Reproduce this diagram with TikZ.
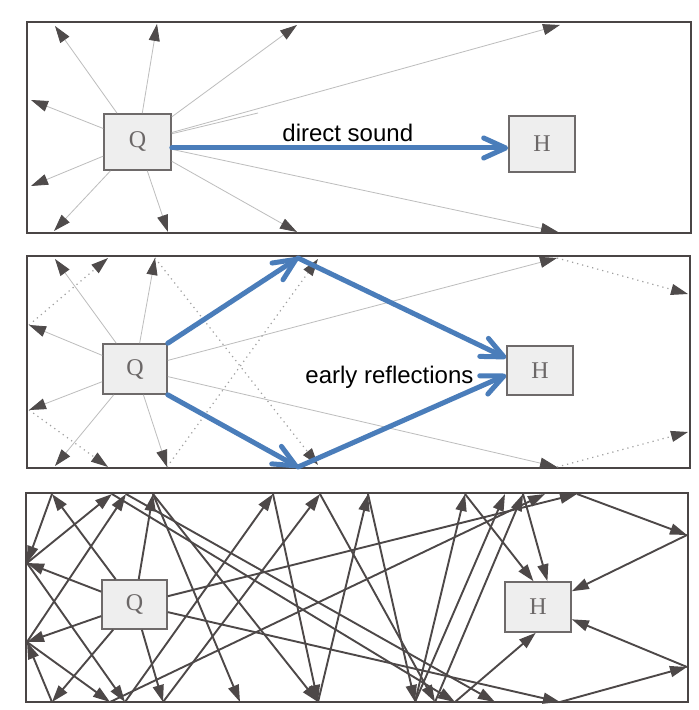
\documentclass[tikz,border=0pt]{standalone}
\usepackage{fontspec}
\setmainfont{Liberation Serif}
\newfontfamily\labfont{Liberation Sans}
\usetikzlibrary{arrows.meta}
\definecolor{framec}{HTML}{4A4545}
\definecolor{rayc}{HTML}{BDBDBD}
\definecolor{tipc}{HTML}{4F4B4B}
\definecolor{darkc}{HTML}{4D4848}
\definecolor{boxfill}{HTML}{EEEEEE}
\definecolor{boxline}{HTML}{6E6A6A}
\definecolor{txtgray}{HTML}{6B6767}
\definecolor{bluec}{HTML}{4A7DBA}
\begin{document}
\begin{tikzpicture}[x=0.5pt,y=-0.5pt,
  room/.style={draw=framec,line width=1.3pt},
  box/.style={draw=boxline,fill=boxfill,line width=0.8pt,inner sep=0pt,text=txtgray,font=\fontsize{12}{14}\selectfont},
  thinray/.style={draw=rayc,line width=0.4pt,-{Triangle[length=8.5pt,width=5.5pt,color=tipc]}},
  plainray/.style={draw=rayc,line width=0.4pt},
  dotray/.style={draw=gray!75,line width=0.6pt,dotted,-{Triangle[length=8.5pt,width=5.5pt,color=tipc]}},
  thickray/.style={draw=darkc,line width=0.95pt,-{Triangle[length=8.5pt,width=5.5pt,color=darkc]}},
  bluearr/.style={draw=bluec,line width=2.5pt,line cap=round,-{Straight Barb[length=11pt,width=10pt,line cap=round,line join=round]}},
  lab/.style={font=\labfont\fontsize{12}{14}\selectfont,inner sep=0pt,anchor=base west}]
\useasboundingbox (0,0) rectangle (698,710);
\fill[white] (0,0) rectangle (698,710);

% ---------------- panel 1 ----------------
\draw[room] (27,22) rectangle (691,233);
\node[box,minimum width=33.5pt,minimum height=28pt] (Q1) at (137.5,142) {Q};
\node[box,minimum width=33pt,minimum height=28pt] (H1) at (542,144) {H};
\coordinate (a1) at (55,26);
\coordinate (a2) at (157,24);
\coordinate (a3) at (297,25);
\coordinate (a4) at (560,25);
\coordinate (a5) at (31,100);
\coordinate (a6) at (31,186);
\coordinate (a7) at (54,231);
\coordinate (a8) at (168,232);
\coordinate (a9) at (297,232);
\coordinate (a10) at (558,232);
\coordinate (a11) at (258,113);
\foreach \t in {a1,a2,a3,a4,a5,a6,a7,a8,a9,a10} \draw[thinray] (Q1) -- (\t);
\draw[plainray] (Q1) -- (a11);
\node[lab] (t1) at (282,142) {direct sound};
\draw[bluearr] ([yshift=-3pt]Q1.east) -- ([yshift=-2pt]H1.west);

% ---------------- panel 2 ----------------
\draw[room] (27,256) rectangle (690,468);
\node[box,minimum width=32pt,minimum height=25pt] (Q2) at (135,369) {Q};
\node[box,minimum width=33pt,minimum height=24.5pt] (H2) at (540,370.5) {H};
\coordinate (b1) at (55,259);
\coordinate (b2) at (29,325);
\coordinate (b3) at (108,258);
\coordinate (b4) at (29,410);
\coordinate (b5) at (108,467);
\coordinate (b6) at (55,466);
\coordinate (b7) at (155,258);
\coordinate (b8) at (167,467);
\coordinate (b9) at (318,465);
\coordinate (b10) at (318,259);
\coordinate (b11) at (557,258);
\coordinate (b12) at (688,294);
\coordinate (b13) at (557,467);
\coordinate (b14) at (688,432);
\coordinate (p1) at (298,258);
\coordinate (p2) at (298,467);
\foreach \t in {b1,b2,b4,b6,b7,b8,b11,b13} \draw[thinray] (Q2) -- (\t);
\draw[dotray] (b2) -- (b3);
\draw[dotray] (b4) -- (b5);
\draw[dotray] (b7) -- (b9);
\draw[dotray] (b8) -- (b10);
\draw[dotray] (b11) -- (b12);
\draw[dotray] (b13) -- (b14);
\node[lab] (t2) at (305,383) {early reflections};
\draw[bluearr] (Q2.north east) -- (p1);
\draw[bluearr] (p1) -- ([yshift=6.25pt]H2.west);
\draw[bluearr] (Q2.south east) -- (p2);
\draw[bluearr] (p2) -- ([yshift=-2.25pt]H2.west);

% ---------------- panel 3 ----------------
\draw[room] (26,493) rectangle (688,702);
\node[box,minimum width=32.5pt,minimum height=24.5pt] (Q3) at (134.5,604.5) {Q};
\node[box,minimum width=33pt,minimum height=25pt] (H3) at (538,607) {H};
\coordinate (t52) at (52,494);
\coordinate (t112) at (112,494);
\coordinate (t126) at (126,494);
\coordinate (t153) at (153,494);
\coordinate (t273) at (273,494);
\coordinate (t320) at (320,494);
\coordinate (t368) at (368,494);
\coordinate (t465) at (465,494);
\coordinate (t505) at (505,494);
\coordinate (t523) at (523,494);
\coordinate (t545) at (545,494);
\coordinate (t577) at (577,494);
\coordinate (c52) at (52,702);
\coordinate (c110) at (110,702);
\coordinate (c125) at (125,702);
\coordinate (c163) at (163,702);
\coordinate (c240) at (240,702);
\coordinate (c318) at (318,702);
\coordinate (c415) at (415,702);
\coordinate (c435) at (435,702);
\coordinate (c455) at (455,702);
\coordinate (c495) at (495,702);
\coordinate (c560) at (560,702);
\coordinate (l563) at (27,563);
\coordinate (l642) at (27,642);
\coordinate (r535) at (687,535);
\coordinate (r667) at (687,667);
% rays leaving Q
\foreach \t in {t52,l563,l642,c52,t153,c163,t577,c560} \draw[thickray] (Q3) -- (\t);
% left reflections
\draw[thickray] (t52) -- (l563);
\draw[thickray] (c52) -- (l642);
\draw[thickray] (l563) -- (t112);
\draw[thickray] (l563) -- (c125);
\draw[thickray] (l642) -- (t126);
\draw[thickray] (l642) -- (c110);
% long crossing reflections
\draw[thickray] (t112) -- (c455);
\draw[thickray] (t126) -- (c495);
\draw[thickray] (t153) -- (c240);
\draw[thickray] (t153) -- (c318);
\draw[thickray] (c125) -- (t273);
\draw[thickray] (c163) -- (t320);
\draw[thickray] (c110) -- (t545);
\draw[thickray] (t273) -- (c318);
\draw[thickray] (t320) -- (c435);
\draw[thickray] (t368) -- (c415);
\draw[thickray] (c318) -- (t368);
\draw[thickray] (c415) -- (t465);
\draw[thickray] (c415) -- (t505);
\draw[thickray] (c435) -- (t523);
% arrivals at H
\draw[thickray] (t465) -- (H3.100);
\draw[thickray] (t523) -- (H3.70);
\draw[thickray] (c455) -- (H3.265);
\draw[thickray] (t577) -- (r535);
\draw[thickray] (r535) -- (H3.25);
\draw[thickray] (c560) -- (r667);
\draw[thickray] (r667) -- (H3.-20);
\end{tikzpicture}
\end{document}
